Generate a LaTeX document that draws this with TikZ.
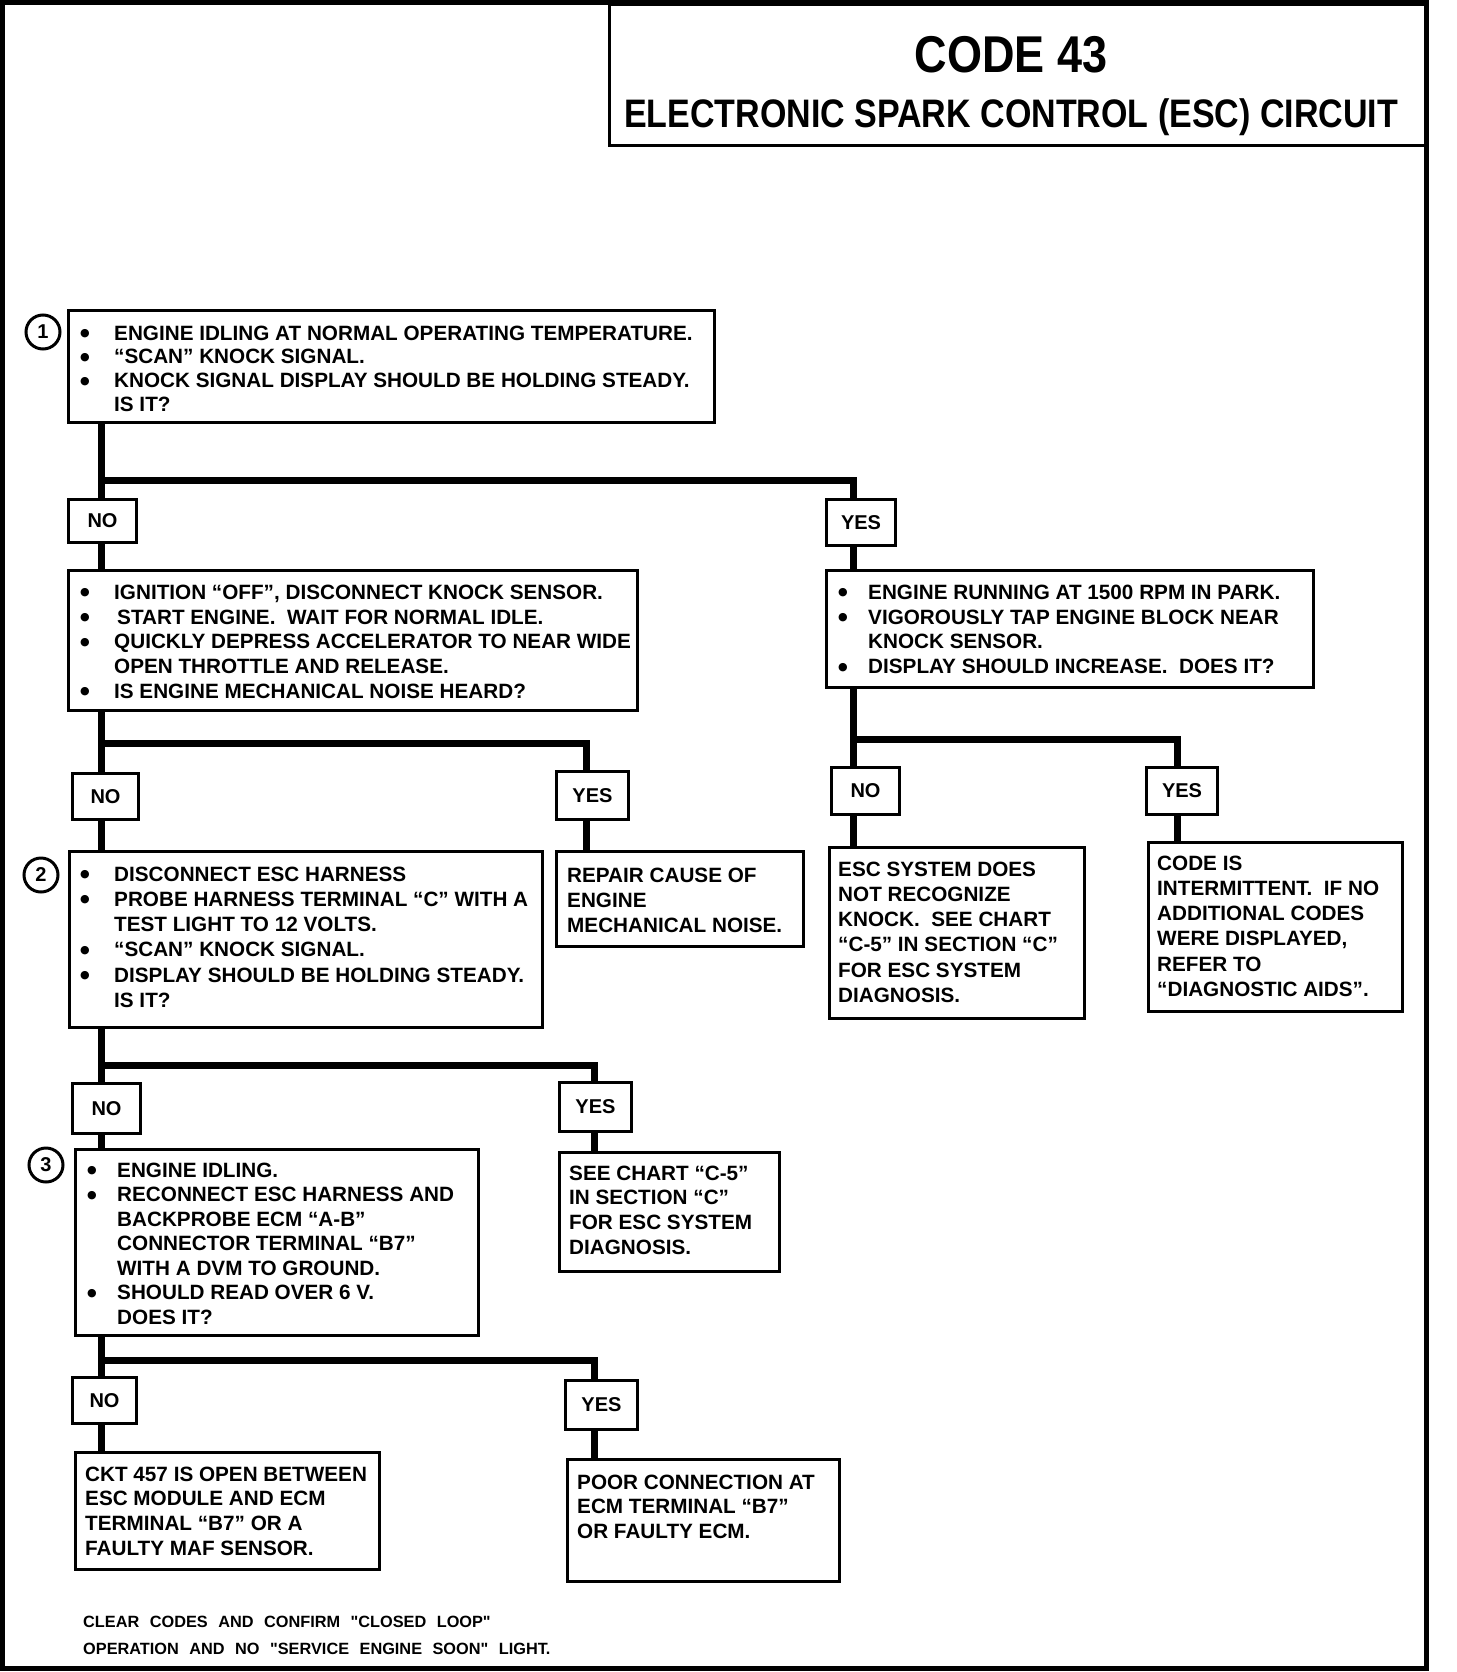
\documentclass[tikz,border=0pt]{standalone}
\usepackage{fontspec}
\usepackage{graphicx}
\setmainfont{Liberation Sans}
\newfontfamily\footfont{Liberation Sans}[Ligatures=TeXOff]
\newfontfamily\dotfont{DejaVu Sans}
\newcommand\bul[1]{\makebox[#1pt][l]{\raisebox{3.5pt}{\dotfont\fontsize{11}{11}\selectfont ●}}}
\newcommand\ind[1]{\hspace*{#1pt}}
\tikzset{
  box/.style={draw, line width=3pt, inner sep=0pt, anchor=north west},
  lbl/.style={draw, line width=3pt, inner sep=0pt, anchor=north west, font=\bfseries\fontsize{20}{24}\selectfont},
  txt/.style={anchor=north west, inner sep=0pt, align=left, font=\bfseries\fontsize{20.7}{24.5}\selectfont},
  conn/.style={line width=7pt},
  num/.style={draw, circle, line width=3pt, minimum size=34, inner sep=0pt, fill=white, font=\bfseries\fontsize{20}{20}\selectfont},
}
\begin{document}
\begin{tikzpicture}[x=1pt,y=-1pt]
\useasboundingbox (0,0) rectangle (1456,1672);
\draw[line width=5pt] (2,3) rectangle (1426,1668);

% title
\node[box] (title) at (608,3) [minimum width=818, minimum height=141] {};
\node[font=\bfseries\fontsize{45}{45}\selectfont, inner sep=0pt] (ttl1) at (1011,55) {\scalebox{1}[1.15]{CODE 43}};
\node[font=\bfseries\fontsize{34}{34}\selectfont, inner sep=0pt] (ttl2) at (1011,117) {\scalebox{1}[1.17]{ELECTRONIC SPARK CONTROL (ESC) CIRCUIT}};

% boxes
\node[box, minimum width=646, minimum height=112] (b1) at (67,309) {};
\node[lbl, minimum width=68, minimum height=43] (no1) at (67,498) {NO};
\node[lbl, minimum width=69, minimum height=46] (yes1) at (825,498) {YES};
\node[box, minimum width=569, minimum height=140] (b2) at (67,569) {};
\node[box, minimum width=487, minimum height=117] (bR) at (825,569) {};
\node[lbl, minimum width=66, minimum height=46] (no2) at (71,772) {NO};
\node[lbl, minimum width=72, minimum height=48] (yes2) at (555,770) {YES};
\node[box, minimum width=247, minimum height=95] (rep) at (555,850) {};
\node[box, minimum width=473, minimum height=176] (b3) at (68,850) {};
\node[lbl, minimum width=68, minimum height=47] (noR) at (830,766) {NO};
\node[lbl, minimum width=71, minimum height=47] (yesR) at (1145,766) {YES};
\node[box, minimum width=255, minimum height=171] (esc) at (828,846) {};
\node[box, minimum width=254, minimum height=169] (code) at (1147,841) {};
\node[lbl, minimum width=68, minimum height=50] (no3) at (71,1082) {NO};
\node[lbl, minimum width=72, minimum height=49] (yes3) at (558,1081) {YES};
\node[box, minimum width=220, minimum height=119] (see) at (558,1151) {};
\node[box, minimum width=403, minimum height=186] (b4) at (74,1148) {};
\node[lbl, minimum width=64, minimum height=46] (no4) at (71,1376) {NO};
\node[lbl, minimum width=72, minimum height=49] (yes4) at (564,1379) {YES};
\node[box, minimum width=304, minimum height=117] (ckt) at (74,1451) {};
\node[box, minimum width=272, minimum height=122] (poor) at (566,1458) {};

% number circles
\node[num] (c1) at (43,332) {1};
\node[num] (c2) at (41,875) {2};
\node[num] (c3) at (46,1165) {3};

% column coordinates
\coordinate (L) at (101,0);
\coordinate (R) at (853,0);
\coordinate (Y2) at (586,0);
\coordinate (Y3) at (594,0);
\coordinate (Y4) at (594,0);
\coordinate (YR) at (1177,0);
\coordinate (j1) at (101,480);
\coordinate (j2) at (101,743);
\coordinate (j3) at (101,1065);
\coordinate (j4) at (101,1360);
\coordinate (jR) at (853,739);

% connectors
\draw[conn] (b1.south -| L) -- (no1.north -| L);
\draw[conn] (j1) -| (yes1.north -| R);
\draw[conn] (no1.south -| L) -- (b2.north -| L);
\draw[conn] (yes1.south -| R) -- (bR.north -| R);
\draw[conn] (b2.south -| L) -- (no2.north -| L);
\draw[conn] (j2) -| (yes2.north -| Y2);
\draw[conn] (no2.south -| L) -- (b3.north -| L);
\draw[conn] (yes2.south -| Y2) -- (rep.north -| Y2);
\draw[conn] (bR.south -| R) -- (noR.north -| R);
\draw[conn] (jR) -| (yesR.north -| YR);
\draw[conn] (noR.south -| R) -- (esc.north -| R);
\draw[conn] (yesR.south -| YR) -- (code.north -| YR);
\draw[conn] (b3.south -| L) -- (no3.north -| L);
\draw[conn] (j3) -| (yes3.north -| Y3);
\draw[conn] (no3.south -| L) -- (b4.north -| L);
\draw[conn] (yes3.south -| Y3) -- (see.north -| Y3);
\draw[conn] (b4.south -| L) -- (no4.north -| L);
\draw[conn] (j4) -| (yes4.north -| Y4);
\draw[conn] (no4.south -| L) -- (ckt.north -| L);
\draw[conn] (yes4.south -| Y4) -- (poor.north -| Y4);

% texts
\node[txt, font=\bfseries\fontsize{20.7}{23.7}\selectfont] (t1) at (80,325.6) {%
\bul{34}ENGINE IDLING AT NORMAL OPERATING TEMPERATURE.\\
\bul{34}“SCAN” KNOCK SIGNAL.\\
\bul{34}KNOCK SIGNAL DISPLAY SHOULD BE HOLDING STEADY.\\
\ind{34}IS IT?};
\node[txt, font=\bfseries\fontsize{20.7}{24.75}\selectfont] (t2) at (80,584.6) {%
\bul{34}IGNITION “OFF”, DISCONNECT KNOCK SENSOR.\\
\bul{37}START ENGINE.\ \ WAIT FOR NORMAL IDLE.\\
\bul{34}QUICKLY DEPRESS ACCELERATOR TO NEAR WIDE\\
\ind{34}OPEN THROTTLE AND RELEASE.\\
\bul{34}IS ENGINE MECHANICAL NOISE HEARD?};
\node[txt, font=\bfseries\fontsize{20.7}{24.75}\selectfont] (tR) at (838,584.6) {%
\bul{30}ENGINE RUNNING AT 1500 RPM IN PARK.\\
\bul{30}VIGOROUSLY TAP ENGINE BLOCK NEAR\\
\ind{30}KNOCK SENSOR.\\
\bul{30}DISPLAY SHOULD INCREASE.\ \ DOES IT?};
\node[txt, font=\bfseries\fontsize{20.7}{25}\selectfont] (trep) at (567,867.6) {%
REPAIR CAUSE OF\\ENGINE\\MECHANICAL NOISE.};
\node[txt, font=\bfseries\fontsize{20.7}{25.2}\selectfont] (t3) at (80,866.6) {%
\bul{34}DISCONNECT ESC HARNESS\\
\bul{34}PROBE HARNESS TERMINAL “C” WITH A\\
\ind{34}TEST LIGHT TO 12 VOLTS.\\
\bul{34}“SCAN” KNOCK SIGNAL.\\
\bul{34}DISPLAY SHOULD BE HOLDING STEADY.\\
\ind{34}IS IT?};
\node[txt, font=\bfseries\fontsize{20.7}{25.2}\selectfont] (tesc) at (838,861.6) {%
ESC SYSTEM DOES\\NOT RECOGNIZE\\KNOCK.\ \ SEE CHART\\“C-5” IN SECTION “C”\\FOR ESC SYSTEM\\DIAGNOSIS.};
\node[txt, font=\bfseries\fontsize{20.7}{25.2}\selectfont] (tcode) at (1157,855.6) {%
CODE IS\\INTERMITTENT.\ \ IF NO\\ADDITIONAL CODES\\WERE DISPLAYED,\\REFER TO\\“DIAGNOSTIC AIDS”.};
\node[txt, font=\bfseries\fontsize{20.7}{24.6}\selectfont] (tsee) at (569,1165.6) {%
SEE CHART “C-5”\\IN SECTION “C”\\FOR ESC SYSTEM\\DIAGNOSIS.};
\node[txt, font=\bfseries\fontsize{20.7}{24.5}\selectfont] (t4) at (87,1162.6) {%
\bul{30}ENGINE IDLING.\\
\bul{30}RECONNECT ESC HARNESS AND\\
\ind{30}BACKPROBE ECM “A-B”\\
\ind{30}CONNECTOR TERMINAL “B7”\\
\ind{30}WITH A DVM TO GROUND.\\
\bul{30}SHOULD READ OVER 6 V.\\
\ind{30}DOES IT?};
\node[txt, font=\bfseries\fontsize{20.7}{24.7}\selectfont] (tckt) at (85,1466.6) {%
CKT 457 IS OPEN BETWEEN\\ESC MODULE AND ECM\\TERMINAL “B7” OR A\\FAULTY MAF SENSOR.};
\node[txt, font=\bfseries\fontsize{20.7}{24.5}\selectfont] (tpoor) at (577,1474.6) {%
POOR CONNECTION AT\\ECM TERMINAL “B7”\\OR FAULTY ECM.};

% footer
\node[txt, font={\footfont\bfseries\fontsize{16.3}{27}\selectfont\spaceskip=10.5pt\relax}] (foot) at (83,1616) {%
CLEAR CODES AND CONFIRM "CLOSED LOOP"\\OPERATION AND NO "SERVICE ENGINE SOON" LIGHT.};
\end{tikzpicture}
\end{document}
